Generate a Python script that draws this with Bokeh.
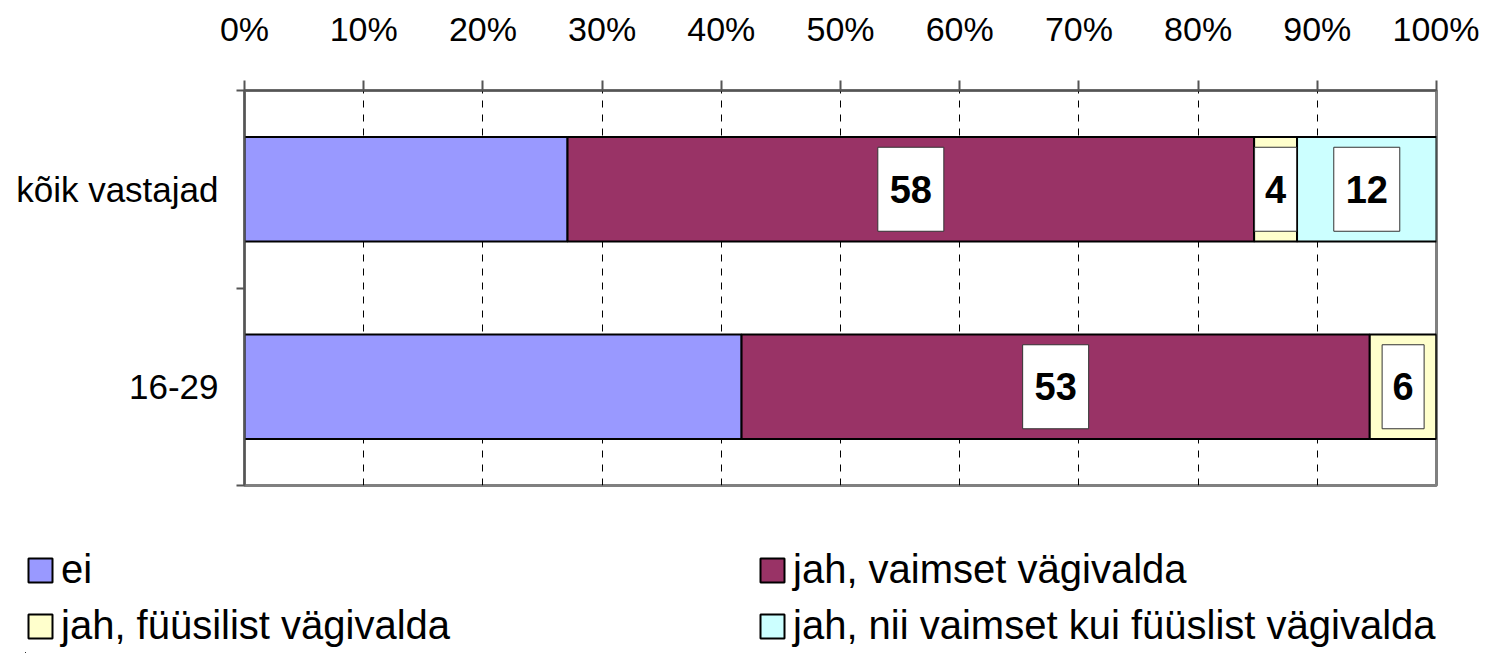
from bokeh.plotting import figure
from bokeh.layouts import column, row
from bokeh.models import (ColumnDataSource, Range1d, FixedTicker, Legend, LegendItem)
from bokeh.core.properties import value
from bokeh.embed import file_html
from bokeh.resources import INLINE

# ---- data ----
categories = ["kõik vastajad", "16-29"]
series_names = ["ei", "jah, vaimset vägivalda", "jah, füüsilist vägivalda",
                "jah, nii vaimset kui füüslist vägivalda"]
ei = [27.1, 41.7]
vaimset = [57.6, 52.7]
fuusilist = [3.6, 5.6]
molemad = [11.7, 0.0]
labeled = [False, True, True, True]   # which series carry data labels
x_ticks = [0, 10, 20, 30, 40, 50, 60, 70, 80, 90, 100]
x_tick_labels = ["0%", "10%", "20%", "30%", "40%", "50%", "60%", "70%", "80%", "90%", "100%"]

colors = ["#9999FF", "#993366", "#FFFFCC", "#CCFFFF"]
FONT = "Liberation Sans"

n = len(categories)
ypos = [n - 0.5 - i for i in range(n)]   # first category on top
keys = ["s0", "s1", "s2", "s3"]
series = [ei, vaimset, fuusilist, molemad]
data = {"y": ypos}
for k, s in zip(keys, series):
    data[k] = s
src = ColumnDataSource(data)

W, H = 1479, 500
p = figure(width=W, height=H, output_backend="svg", toolbar_location=None,
           x_range=Range1d(0, 100), y_range=Range1d(0, n),
           x_axis_location="above",
           min_border_left=244, min_border_right=W - 1436, min_border_top=90,
           min_border_bottom=H - 485)
p.outline_line_color = "#808080"
p.outline_line_width = 3

renderers = p.hbar_stack(keys, y="y", height=0.53, source=src, color=colors,
                         line_color="black", line_width=2)
for r in list(p.center):
    if isinstance(r, Legend):
        p.center.remove(r)

# top axis
xa = p.xaxis[0]
xa.ticker = FixedTicker(ticks=x_ticks)
xa.major_label_overrides = {t: l for t, l in zip(x_ticks, x_tick_labels)}
xa.major_tick_out = 10
xa.major_tick_in = 0
xa.minor_tick_out = 0
xa.axis_line_color = "#555555"
xa.axis_line_width = 2
xa.major_tick_line_color = "#555555"
xa.major_tick_line_width = 2
xa.major_label_text_font = FONT
xa.major_label_text_font_size = "34px"
xa.major_label_text_color = "black"
xa.major_label_standoff = 33

# left axis
ya = p.yaxis[0]
ya.ticker = FixedTicker(ticks=ypos, minor_ticks=list(range(n + 1)))
ya.major_label_overrides = {y: c for y, c in zip(ypos, categories)}
ya.major_tick_out = 0
ya.major_tick_in = 0
ya.minor_tick_out = 8
ya.minor_tick_in = 0
ya.minor_tick_line_color = "#555555"
ya.minor_tick_line_width = 2
ya.axis_line_color = "#555555"
ya.axis_line_width = 2
ya.major_label_text_font = FONT
ya.major_label_text_font_size = "35px"
ya.major_label_text_color = "black"
ya.major_label_standoff = 18

# grid
p.xgrid.ticker = FixedTicker(ticks=x_ticks[1:-1])
p.xgrid.grid_line_color = "black"
p.xgrid.grid_line_dash = "7 7"
p.xgrid.grid_line_width = 1
p.ygrid.grid_line_color = None

# data labels
lx, ly, lt, lw = [], [], [], []
for i in range(n):
    cum = 0.0
    for s, lab in zip(series, labeled):
        v = s[i]
        if lab and v > 0:
            txt = str(int(round(v)))
            lx.append(cum + v / 2)
            ly.append(ypos[i])
            lt.append(txt)
            lw.append(18 + 24 * len(txt))
        cum += v
lsrc = ColumnDataSource(dict(x=lx, y=ly, t=lt, w=lw))
p.rect(x="x", y="y", width="w", height=84, width_units="screen", height_units="screen",
       source=lsrc, fill_color="white", line_color="#333333", line_width=1)
p.text(x="x", y="y", text="t", source=lsrc, text_align="center", text_baseline="middle",
       text_font=value(FONT), text_font_style="bold", text_font_size="38px",
       text_color="black")

# legend in its own strip below the chart (proxy bars lie outside its view)
LH = 153
lf = figure(width=W, height=LH, output_backend="svg", toolbar_location=None,
            x_range=Range1d(1000, 1001), y_range=Range1d(10, 11),
            x_axis_type=None, y_axis_type=None,
            min_border_left=25, min_border_top=47, min_border_right=0, min_border_bottom=0)
lf.outline_line_color = None
lf_src = ColumnDataSource(data)
leg_renderers = lf.hbar_stack(keys, y="y", height=0.5, source=lf_src, color=colors,
                              line_color="black", line_width=2)
for r in list(lf.center):
    if isinstance(r, Legend):
        lf.center.remove(r)
legend = Legend(items=[LegendItem(label=nm, renderers=[r]) for nm, r in zip(series_names, leg_renderers)],
                ncols=2, location="top_left", orientation="horizontal",
                glyph_width=30, glyph_height=30, label_standoff=6,
                label_text_font=FONT, label_text_font_size="40px", label_text_color="black",
                label_height=26, label_width=685, spacing=11, padding=0, margin=0,
                border_line_color=None, background_fill_alpha=0)
lf.add_layout(legend, "center")

layout = column(p, row(lf), spacing=0)
open("out.html", "w").write(file_html(layout, INLINE))
